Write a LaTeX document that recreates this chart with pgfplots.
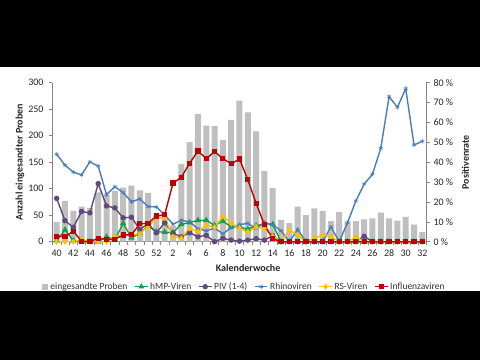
\documentclass[border=0pt]{standalone}
\usepackage{fontspec}
\setmainfont{Carlito}
\usepackage{pgfplots}
\usepackage{pgfplotstable}
\pgfplotsset{compat=1.18}
\definecolor{barg}{HTML}{BFBFBF}
\definecolor{hmp}{HTML}{10A048}
\definecolor{piv}{HTML}{604A7B}
\definecolor{rhino}{HTML}{4A7EBB}
\definecolor{rsv}{HTML}{FFC000}
\definecolor{flu}{HTML}{C00000}
\definecolor{axg}{HTML}{868686}
\pgfplotstableread{
i w bars hmp piv rhino rs flu
0 40 37 0.5 21.8 44.0 0 2.8
1 41 77 6.0 10.6 38.5 0 2.5
2 42 58 0.5 7.2 35.0 0 5.3
3 43 66 0 15.2 33.6 1.0 0.2
4 44 64 0 14.5 40.2 0 0
5 45 93 0 29.2 38.0 0 1.7
6 46 89 2.5 18.0 23.7 0 1.2
7 47 96 1.0 17.0 27.7 2.5 1.2
8 48 102 9.2 12.0 24.7 3.4 3.4
9 49 106 2.0 12.3 20.1 3.5 3.5
10 50 97 4.2 6.2 21.5 4.0 9.0
11 51 92 8.0 9.0 17.7 7.8 9.3
12 52 50 5.0 4.5 17.5 12.0 12.9
13 1 48 4.8 9.5 13.5 12.0 13.6
14 2 30 4.6 4.2 8.8 2.5 29.5
15 3 147 8.8 2.5 10.8 1.8 32.4
16 4 188 9.6 4.5 10.0 6.7 39.5
17 5 241 10.8 2.5 6.5 5.0 45.6
18 6 219 10.8 3.2 5.5 8.4 41.8
19 7 218 8.2 0 6.8 7.3 45.3
20 8 192 10.3 1.7 4.0 12.8 41.8
21 9 230 7.5 0.8 7.0 9.2 39.2
22 10 266 7.5 0.3 8.6 6.8 41.6
23 11 244 6.2 0.8 9.2 5.0 31.2
24 12 208 8.0 1.5 6.7 7.5 19.3
25 13 133 9.0 0.8 9.5 6.7 8.5
26 14 101 8.8 3.0 8.5 2.8 1.5
27 15 41 0 0 5.5 0 0
28 16 35 0 0 0 5.9 0
29 17 66 0 0 6.2 3.4 0
30 18 50 0 0 0 0 0
31 19 63 0 0 0 1.7 0
32 20 58 0 0 0 3.4 0
33 21 39 0 0 7.5 2.5 0
34 22 56 0 0 0 0 0
35 23 38 0 0 9.6 0 0
36 24 39 0 0 20.5 2.3 0
37 25 42 0 2.7 29.0 0 0
38 26 44 0 0 34.0 0 0
39 27 55 0 0 47.0 0 0
40 28 44 0 0 73.0 0 0
41 29 40 0 0 67.6 0 0
42 30 47 0 0 77.0 0 0
43 31 32 0 0 48.7 0 0
44 32 18 0 0 50.5 0 0
}\data
\begin{document}
\begin{tikzpicture}[x=1pt,y=1pt]
\fill[white] (0,0) rectangle (480,360);
\pgfplotsset{
  common/.style={
    scale only axis, width=374pt, height=159pt,
    at={(52.5pt,118.3pt)}, anchor=south west,
    xmin=-0.5, xmax=44.5,
    /pgf/number format/assume math mode=true,
    tick label style={font=\fontsize{10}{12}\selectfont, text=black!85},
    axis line style={axg, line width=0.6pt},
    tick style={axg, line width=0.6pt},
    tick align=outside,
    major tick length=3.5pt,
  }
}
\begin{axis}[common,
  ymin=0, ymax=300,
  axis y line*=left, axis x line*=bottom,
  ytick={0,50,...,300},
  yticklabel style={xshift=-2pt},
  xtick={0,2,...,44},
  xticklabels={40,42,44,46,48,50,52,2,4,6,8,10,12,14,16,18,20,22,24,26,28,30,32},
  xticklabel style={yshift=-1pt},
  minor xtick={-0.5,0.5,...,44.5},
  minor tick length=3.5pt,
  every major x tick/.append style={draw=none},
  ylabel={\bfseries Anzahl eingesandter Proben},
  ylabel style={at={(axis description cs:-0.075,0.5)}, anchor=south, inner sep=0pt, font=\fontsize{10}{12}\selectfont, text=black!85},
  xlabel={\bfseries Kalenderwoche},
  xlabel style={at={(axis description cs:0.523,-0.165)}, anchor=center, inner sep=0pt, font=\fontsize{10}{12}\selectfont, text=black!85},
  legend columns=6,
  legend style={draw=none, fill=none, at={(axis description cs:0.513,-0.283)}, anchor=center,
    font=\fontsize{9.5}{11}\selectfont, text=black!80,
    /tikz/every even column/.append style={column sep=5pt}, inner sep=0pt},
  legend image code/.code={\draw[mark repeat=2,mark phase=2,#1] plot coordinates {(0cm,0cm) (0.22cm,0cm) (0.44cm,0cm)};},
]
\addplot[ybar, bar width=6pt, fill=barg, draw=none, area legend,
  legend image code/.code={\fill[barg] (0cm,-0.1cm) rectangle (0.22cm,0.1cm);}] table[x=i,y=bars]{\data};
\addlegendentry{eingesandte Proben}
\addlegendimage{hmp, line width=1.3pt, mark=triangle*, mark size=2.2pt, mark options={solid}}
\addlegendentry{hMP-Viren}
\addlegendimage{piv, line width=1.3pt, mark=*, mark size=2pt}
\addlegendentry{PIV (1-4)}
\addlegendimage{rhino, line width=1.3pt, mark=asterisk, mark size=2.2pt, mark options={line width=0.6pt}}
\addlegendentry{Rhinoviren}
\addlegendimage{rsv, line width=1.3pt, mark=diamond*, mark size=2pt}
\addlegendentry{RS-Viren}
\addlegendimage{flu, line width=1.3pt, mark=square*, mark size=1.9pt}
\addlegendentry{Influenzaviren}
\end{axis}
\begin{axis}[common,
  ymin=0, ymax=80,
  axis y line*=right, axis x line=none,
  ytick={0,10,...,80},
  yticklabel={\pgfmathprintnumber{\tick} \%},
  yticklabel style={xshift=0pt},
  ylabel={\bfseries Positivenrate},
  ylabel style={at={(axis description cs:1.094,0.5)}, anchor=north, rotate=0, inner sep=0pt, font=\fontsize{10}{12}\selectfont, text=black!85},
  clip=false,
]
\addplot[hmp, line width=1.4pt, mark=triangle*, mark size=2.2pt] table[x=i,y=hmp]{\data};
\addplot[piv, line width=1.4pt, mark=*, mark size=2pt] table[x=i,y=piv]{\data};
\addplot[rhino, line width=1.4pt, mark=asterisk, mark size=2.2pt, mark options={line width=0.6pt}] table[x=i,y=rhino]{\data};
\addplot[rsv, line width=1.4pt, mark=diamond*, mark size=2pt] table[x=i,y=rs]{\data};
\addplot[flu, line width=1.4pt, mark=square*, mark size=1.9pt] table[x=i,y=flu]{\data};
\end{axis}
\fill[black] (0,293) rectangle (480,360);
\fill[black] (0,0) rectangle (480,69);
\pgfresetboundingbox
\useasboundingbox (0,0) rectangle (480,360);
\end{tikzpicture}
\end{document}
